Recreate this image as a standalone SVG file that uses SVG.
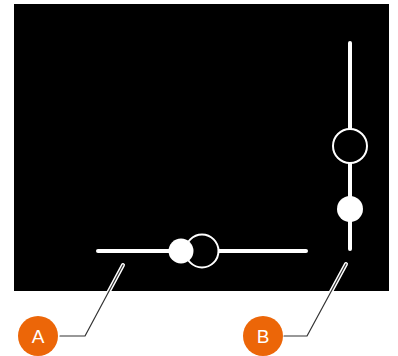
<svg xmlns="http://www.w3.org/2000/svg" width="398" height="356" viewBox="0 0 398 356">
<style>
.track{stroke:#fff;stroke-width:4;stroke-linecap:round;fill:none}
.thumb{fill:#fff}
.ring{fill:#000;stroke:#fff;stroke-width:2}
.halo{stroke:#fff;stroke-width:4;stroke-linecap:round;stroke-linejoin:round;fill:none}
.lead{stroke:#333;stroke-width:1.2;stroke-linecap:round;stroke-linejoin:round;fill:none}
.badge{fill:#EC6608}
.lbl{fill:#fff;font-family:"Liberation Sans",Arial,sans-serif;font-size:19px;text-anchor:middle}
</style>
<rect x="14" y="4" width="375" height="287" fill="#000"/>
<g id="horizontal-slider">
<line class="track" x1="98" y1="251" x2="306" y2="251"/>
<circle class="ring" cx="202" cy="251" r="16.5"/>
<circle class="thumb" cx="181" cy="251" r="12.5"/>
</g>
<g id="vertical-slider">
<line class="track" x1="350" y1="43" x2="350" y2="249"/>
<circle class="ring" cx="350" cy="146" r="17"/>
<circle class="thumb" cx="350" cy="209" r="13"/>
</g>
<g id="connectors">
<polyline class="halo" points="123,265 85,336 60,336"/>
<polyline class="lead" points="123,265 85,336 60,336"/>
<polyline class="halo" points="346,264 307,336 284,336"/>
<polyline class="lead" points="346,264 307,336 284,336"/>
</g>
<g id="callout-A">
<circle class="badge" cx="38" cy="336" r="20"/>
<text class="lbl" x="38" y="343">A</text>
</g>
<g id="callout-B">
<circle class="badge" cx="263" cy="336" r="20"/>
<text class="lbl" x="263" y="343">B</text>
</g>
</svg>
